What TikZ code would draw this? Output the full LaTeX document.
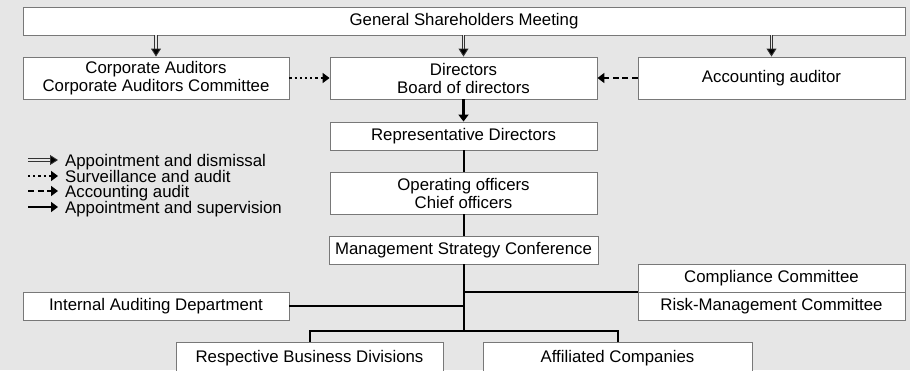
\documentclass[tikz,border=0pt]{standalone}
\usepackage{fontspec}
\setmainfont{Liberation Sans}
\usetikzlibrary{arrows.meta}
\definecolor{govbg}{RGB}{230,230,230}
\definecolor{govedge}{RGB}{120,120,120}

\begin{document}
\begin{tikzpicture}[x=1pt,y=-1pt,
  box/.style={draw=govedge,fill=white,line width=.9pt,align=center,inner sep=0pt,font=\fontsize{16.8}{18}\selectfont},
  legend/.style={anchor=north west,align=left,inner xsep=7pt,inner ysep=0pt,font=\fontsize{16.8}{15.7}\selectfont},
  link/.style={line width=2pt,draw=black},
  appoint/.style={double=govbg,double distance=1.6pt,line width=.9pt,draw=black!80,-{Triangle[length=8pt,width=10pt,fill=black]}},
  audit/.style={line width=2.2pt,dash pattern=on 2.2pt off 3pt,-{Triangle[length=7pt,width=10pt]}},
  accaudit/.style={line width=2.4pt,dash pattern=on 6pt off 3.5pt,-{Triangle[length=7pt,width=10pt]}},
  superv/.style={line width=2.2pt,-{Triangle[length=7pt,width=10pt]}}]

\useasboundingbox (0,0) rectangle (910,370);
\clip (0,0) rectangle (910,370);
\fill[govbg] (0,0) rectangle (910,370);

\node[box,minimum width=882pt,minimum height=28pt] (gsm) at (464,21) {General Shareholders Meeting};
\node[box,minimum width=266pt,minimum height=42pt] (ca) at (156,78) {Corporate Auditors\\Corporate Auditors Committee};
\node[box,minimum width=267pt,minimum height=42pt] (dir) at (463.5,78) {Directors\\Board of directors};
\node[box,minimum width=267pt,minimum height=42pt] (acc) at (771.5,78) {Accounting auditor};
\node[box,minimum width=267pt,minimum height=28pt] (rep) at (463.5,136) {Representative Directors};
\node[box,minimum width=267pt,minimum height=42pt] (ops) at (463.5,193) {Operating officers\\Chief officers};
\node[box,minimum width=269pt,minimum height=28pt] (msc) at (463.5,250) {Management Strategy Conference};
\node[box,minimum width=267pt,minimum height=28pt] (comp) at (771.5,278) {Compliance Committee};
\node[box,minimum width=267pt,minimum height=28pt] (risk) at (771.5,306) {Risk-Management Committee};
\node[box,minimum width=266pt,minimum height=28pt] (iad) at (156,306) {Internal Auditing Department};
\node[box,minimum width=267pt,minimum height=32pt] (rbd) at (309.5,358) {Respective Business Divisions};
\node[box,minimum width=269pt,minimum height=32pt] (aff) at (617.5,358) {Affiliated Companies};

% appointment by the shareholders
\draw[appoint] (gsm.south -| ca) -- (ca.north);
\draw[appoint] (gsm.south -| dir) -- (dir.north);
\draw[appoint] (gsm.south -| acc) -- (acc.north);
\draw[audit] (ca) -- (dir);
\draw[accaudit] (acc) -- (dir);
\draw[superv] (dir) -- (rep);
\draw[link] (rep) -- (ops);
\draw[link] (ops) -- (msc);

% lower tree
\coordinate (split) at (463.5,331);
\draw[link] (msc.south) -- (split);
\draw[link] (comp.south west -| msc) -- (comp.south west);
\draw[link] (iad.east -| msc) -- (iad.east);
\draw[link] (rbd.north) |- (split) -| (aff.north);

% legend
\node[legend] (key) at (58,154) {Appointment and dismissal\\Surveillance and audit\\Accounting audit\\Appointment and supervision};
\foreach \i/\y/\st in {1/160/appoint,2/176/audit,3/191/accaudit,4/207/superv}{
  \coordinate (s\i) at (28,\y);
  \coordinate (e\i) at (key.west |- s\i);
  \draw[\st] (s\i) -- (e\i);
}
\end{tikzpicture}
\end{document}
